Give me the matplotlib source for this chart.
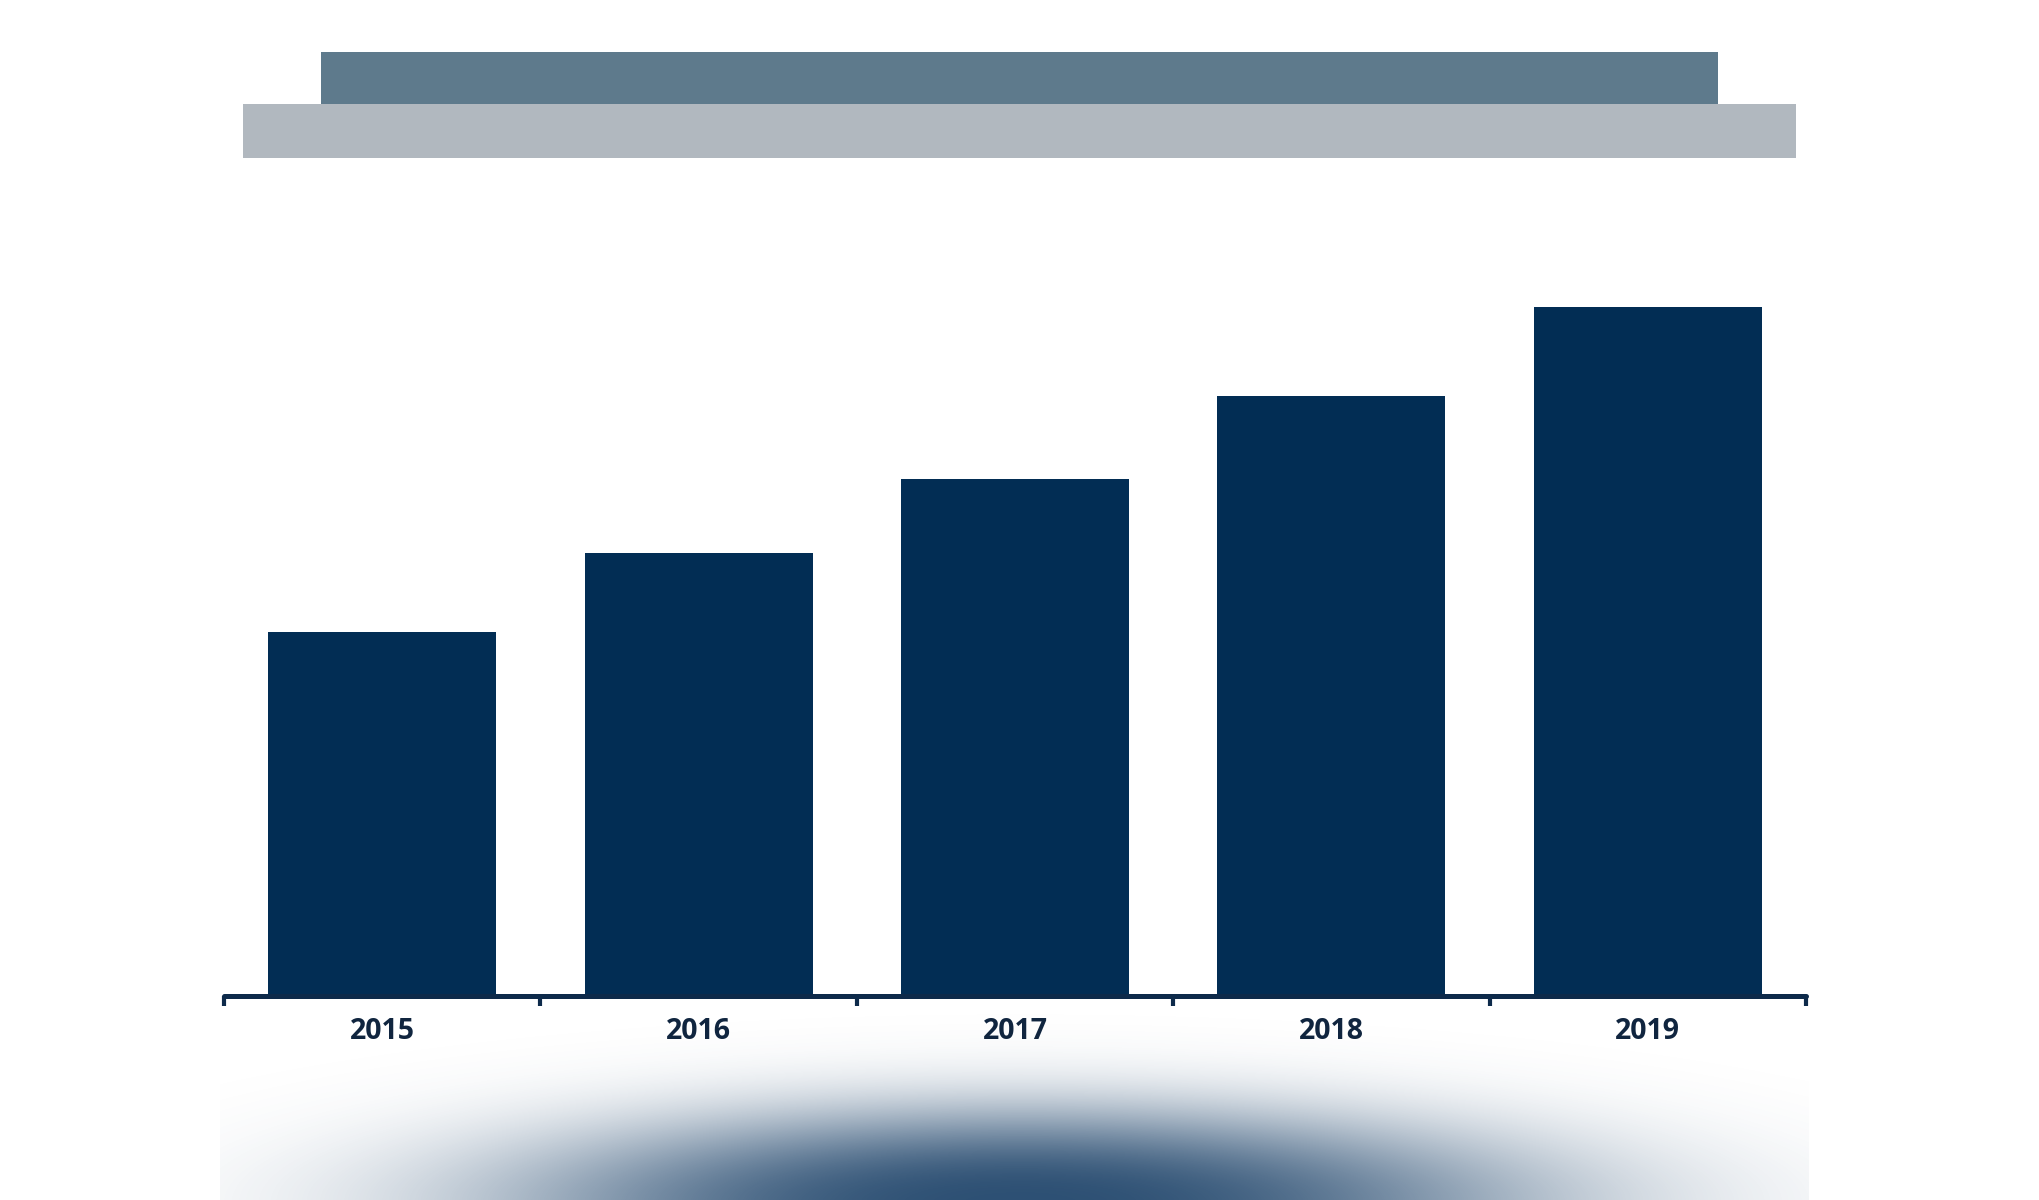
import numpy as np
import matplotlib.pyplot as plt
from matplotlib.patches import Rectangle
from matplotlib.ticker import FixedLocator

years = ['2015', '2016', '2017', '2018', '2019']
values = [364, 443, 517, 600, 689]

W, H = 2040, 1200
bar_color = '#022d54'
axis_color = '#0d2a4a'
text_color = '#10253f'

fig = plt.figure(figsize=(W / 100, H / 100), dpi=100)
fig.patch.set_facecolor('white')

# header bands (empty title placeholders)
def band(x0, y0, x1, y1, color):
    fig.add_artist(Rectangle((x0 / W, 1 - y1 / H), (x1 - x0) / W, (y1 - y0) / H,
                             transform=fig.transFigure, facecolor=color,
                             edgecolor='none', zorder=1))

band(243, 104, 1796, 158, '#b1b8bf')
band(321, 52, 1718, 104, '#5e7a8c')

# soft elliptical glow at the bottom
gx0, gx1, gy0, gy1 = 220, 1809, 1000, 1200
gax = fig.add_axes([gx0 / W, 1 - gy1 / H, (gx1 - gx0) / W, (gy1 - gy0) / H])
gax.set_axis_off()
gax.patch.set_alpha(0)
xs = np.arange(gx0, gx1)
ys = np.arange(gy0, gy1)
X, Y = np.meshgrid(xs, ys)
r = np.sqrt(((X - 1020) / 520.0) ** 2 + ((Y - 1202) / 95.0) ** 2)
a = np.exp(-r ** 2.5)
a[a < 0.004] = 0
img = np.zeros(X.shape + (4,))
img[..., 0] = 0x2c / 255
img[..., 1] = 0x4f / 255
img[..., 2] = 0x73 / 255
img[..., 3] = a
gax.imshow(img, extent=(gx0, gx1, gy1, gy0), aspect='auto', interpolation='bilinear')

# bar chart
ax = fig.add_axes([224 / W, 1 - 996 / H, (1806 - 224) / W, (996 - 200) / H])
ax.set_facecolor('none')
x = np.arange(len(years))
ax.bar(x, values, width=0.72, color=bar_color, zorder=2)
ax.set_xlim(-0.5, len(years) - 0.5)
ax.set_ylim(0, 796)

for s in ['top', 'right', 'left']:
    ax.spines[s].set_visible(False)
ax.spines['bottom'].set_color(axis_color)
ax.spines['bottom'].set_linewidth(3.6)
ax.spines['bottom'].set_zorder(3)
ax.spines['bottom'].set_capstyle('round')
ax.set_yticks([])

ax.set_xticks(x)
ax.set_xticklabels(years, fontfamily='Open Sans', fontweight='bold',
                   fontsize=20.5, color=text_color)
ax.tick_params(axis='x', which='major', length=0, pad=15)
ax.xaxis.set_minor_locator(FixedLocator(np.arange(-0.5, len(years), 1.0)))
ax.tick_params(axis='x', which='minor', length=7, width=3, color=axis_color)

fig.savefig('out.png', dpi=100, facecolor='white')
